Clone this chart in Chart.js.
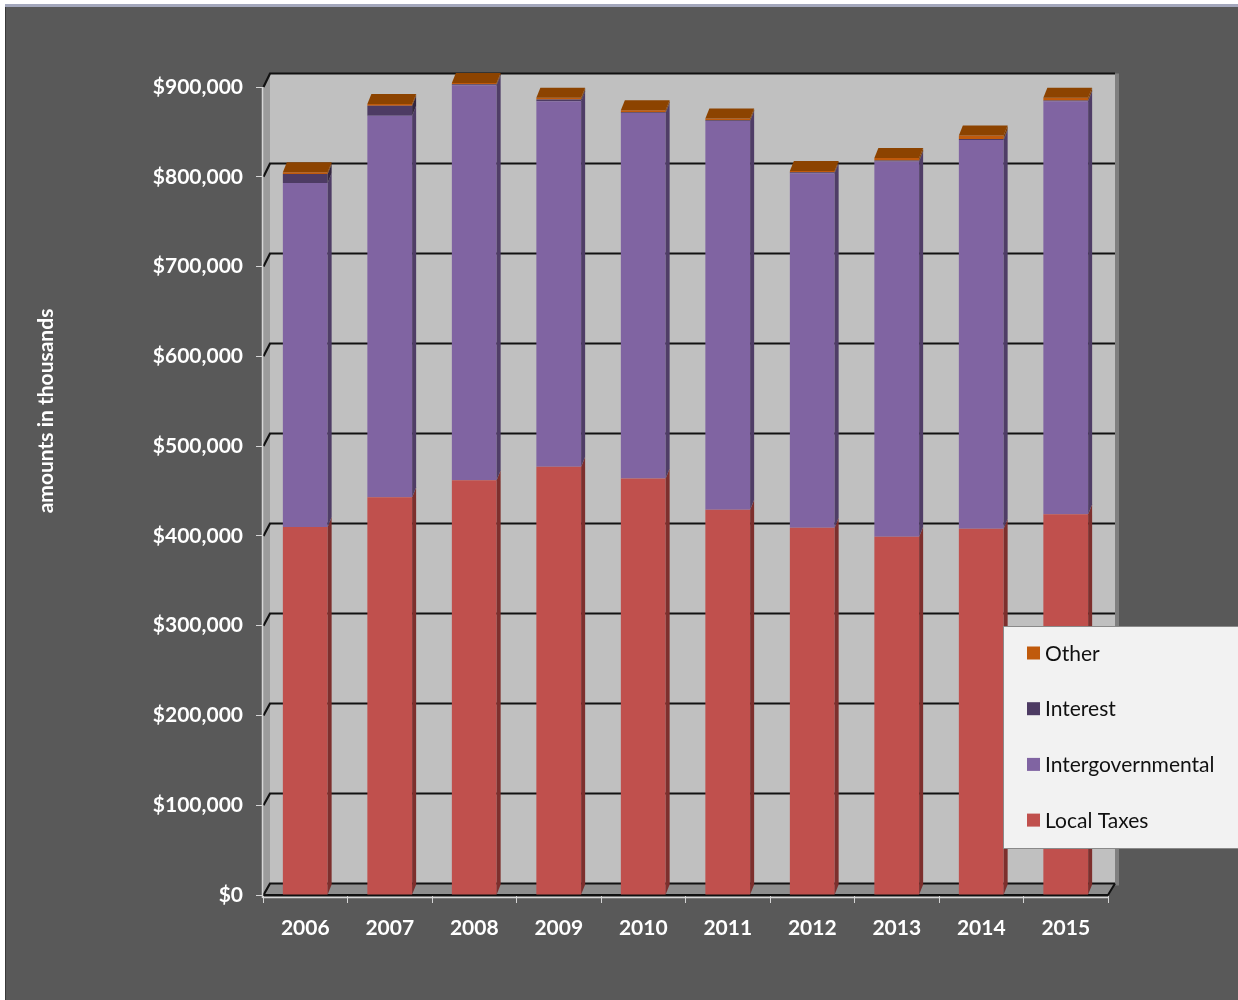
<!DOCTYPE html>
<html>
<head>
<meta charset="utf-8">
<title>Revenues by Source, 2006–2015</title>
<script src="https://cdn.jsdelivr.net/npm/chart.js@4.4.1/dist/chart.umd.min.js"></script>
<style>
  html, body { margin: 0; padding: 0; background: #595959; }
  #wrap { width: 1238px; height: 1000px; }
</style>
</head>
<body>
<div id="wrap"><canvas id="chart" width="1238" height="1000"></canvas></div>
<script>
// Revenues by source, amounts in thousands of dollars
const years = ['2006', '2007', '2008', '2009', '2010', '2011', '2012', '2013', '2014', '2015'];
const localTaxes        = [410000, 443000, 462000, 477000, 464000, 429000, 409000, 399000, 408000, 424000];
const intergovernmental = [383000, 425000, 440000, 407000, 407000, 433000, 395000, 418000, 433000, 460000];
const interest          = [10000, 11000, 1000, 2000, 1000, 1000, 1000, 1000, 1000, 1000];
const other             = [2000, 2000, 1500, 2000, 2000, 2000, 1500, 3000, 4000, 3000];
const axisMax = 900000;
const axisStep = 100000;
const axisTitle = 'amounts in thousands';

// face colours for each series: front, side, top
const palette = {
  local:  { front: '#c0504d', side: '#7d2f2d', top: '#a33f3c' },
  inter:  { front: '#8064a2', side: '#4f3d66', top: '#6a5289' },
  intr:   { front: '#4d3b63', side: '#33263f', top: '#3f3052' },
  other:  { front: '#c05a0c', side: '#7a3800', top: '#8c4300' }
};

const FONT = 'Lato, "Open Sans", "DejaVu Sans", sans-serif';
const BAR_DEPTH = { dx: 4, dy: -10 };   // offset of a bar's back face
const WALL_DEPTH = { dx: 7, dy: -11.5 }; // offset of the back wall

function wallY(frontY, baseY) {
  return frontY + WALL_DEPTH.dy - (baseY - frontY) * 0.0025;
}

// Page background with the frame strips
const backdrop = {
  id: 'backdrop',
  beforeDraw(chart) {
    const { ctx, width, height } = chart;
    ctx.save();
    ctx.fillStyle = '#595959';
    ctx.fillRect(0, 0, width, height);
    ctx.fillStyle = '#ffffff';
    ctx.fillRect(0, 0, width, 4);
    ctx.fillRect(0, 0, 5, height);
    ctx.fillStyle = '#a3a7bc';
    ctx.fillRect(5, 4, width - 5, 3);
    ctx.fillStyle = '#3a3a3a';
    ctx.fillRect(5, 7, 1, height - 7);
    // vertical axis title
    ctx.translate(46, 411);
    ctx.rotate(-Math.PI / 2);
    ctx.fillStyle = '#ffffff';
    ctx.font = 'bold 21px ' + FONT;
    ctx.textAlign = 'center';
    ctx.textBaseline = 'middle';
    ctx.fillText(axisTitle, 0, 0);
    ctx.restore();
  }
};

// Back wall, side wall, floor and gridlines of the 3-D box
const box3d = {
  id: 'box3d',
  beforeDatasetsDraw(chart) {
    const { ctx, chartArea } = chart;
    const ys = chart.scales.y;
    const L = chartArea.left, R = chartArea.right, B = ys.getPixelForValue(0);
    const T = ys.getPixelForValue(axisMax);
    const bL = L + WALL_DEPTH.dx, bR = R + WALL_DEPTH.dx;
    const bT = wallY(T, B), bB = wallY(B, B);
    ctx.save();
    // back wall
    ctx.fillStyle = '#c0c0c0';
    ctx.fillRect(bL, bT, bR - bL, bB - bT);
    ctx.fillStyle = '#7f7f7f';
    ctx.fillRect(bR, bT, 4, bB - bT + 2);
    // left side wall
    ctx.fillStyle = '#9c9c9c';
    ctx.beginPath();
    ctx.moveTo(L, B); ctx.lineTo(L, T); ctx.lineTo(bL, bT); ctx.lineTo(bL, bB);
    ctx.closePath(); ctx.fill();
    // floor
    ctx.fillStyle = '#8e8e8e';
    ctx.beginPath();
    ctx.moveTo(L, B); ctx.lineTo(R, B); ctx.lineTo(bR, bB); ctx.lineTo(bL, bB);
    ctx.closePath(); ctx.fill();
    // gridlines
    ctx.strokeStyle = '#111111';
    ctx.lineWidth = 2.2;
    for (let v = 0; v <= axisMax; v += axisStep) {
      const fy = ys.getPixelForValue(v);
      const by = wallY(fy, B);
      ctx.beginPath();
      ctx.moveTo(L + 0.5, fy);
      ctx.lineTo(bL, by);
      ctx.lineTo(bR, by);
      ctx.stroke();
    }
    // floor edges
    ctx.lineWidth = 2;
    ctx.beginPath();
    ctx.moveTo(L, B); ctx.lineTo(R, B); ctx.lineTo(bR, bB);
    ctx.stroke();
    // axis lines
    ctx.strokeStyle = '#d6d6d6';
    ctx.lineWidth = 1.5;
    ctx.beginPath();
    ctx.moveTo(L - 0.5, T); ctx.lineTo(L - 0.5, B + 3);
    ctx.moveTo(L - 0.5, B + 2.5); ctx.lineTo(R, B + 2.5);
    ctx.stroke();
    ctx.restore();
  },
  afterDatasetsDraw(chart) {
    const { ctx } = chart;
    const n = chart.data.datasets.length;
    ctx.save();
    for (let d = 0; d < n; d++) {
      const ds = chart.data.datasets[d];
      const meta = chart.getDatasetMeta(d);
      meta.data.forEach((el) => {
        const p = el.getProps(['x', 'y', 'base', 'width'], true);
        const l = p.x - p.width / 2, r = p.x + p.width / 2;
        const top = Math.min(p.y, p.base), bot = Math.max(p.y, p.base);
        if (bot - top < 0.01) return;
        ctx.fillStyle = ds.sideColor;
        ctx.beginPath();
        ctx.moveTo(r, top);
        ctx.lineTo(r + BAR_DEPTH.dx, top + BAR_DEPTH.dy);
        ctx.lineTo(r + BAR_DEPTH.dx, bot + BAR_DEPTH.dy);
        ctx.lineTo(r, bot);
        ctx.closePath(); ctx.fill();
        if (d === n - 1) {
          ctx.fillStyle = ds.topColor;
          ctx.beginPath();
          ctx.moveTo(l, top);
          ctx.lineTo(l + BAR_DEPTH.dx, top + BAR_DEPTH.dy);
          ctx.lineTo(r + BAR_DEPTH.dx, top + BAR_DEPTH.dy);
          ctx.lineTo(r, top);
          ctx.closePath(); ctx.fill();
        }
      });
    }
    ctx.restore();
  }
};

// Legend panel, series listed top to bottom in reverse stacking order
const legendBox = {
  id: 'legendBox',
  afterDraw(chart) {
    const { ctx } = chart;
    const x = 1003.5, y = 626.5, w = 236, h = 222;
    ctx.save();
    ctx.fillStyle = '#f2f2f2';
    ctx.fillRect(x, y, w, h);
    ctx.strokeStyle = '#8a8a8a';
    ctx.lineWidth = 1;
    ctx.strokeRect(x, y, w, h);
    const items = chart.data.datasets.slice().reverse();
    ctx.font = '21px ' + FONT;
    ctx.textBaseline = 'middle';
    ctx.textAlign = 'left';
    items.forEach((ds, i) => {
      const cy = 653 + i * 55.7;
      ctx.fillStyle = ds.backgroundColor;
      ctx.fillRect(1027, cy - 6.5, 13, 13);
      ctx.fillStyle = '#111111';
      ctx.fillText(ds.label, 1045, cy + 1);
    });
    ctx.restore();
  }
};

const tickFont = { family: FONT, size: 21, weight: 'bold' };

new Chart(document.getElementById('chart'), {
  type: 'bar',
  data: {
    labels: years,
    datasets: [
      { label: 'Local Taxes', data: localTaxes, backgroundColor: palette.local.front, sideColor: palette.local.side, topColor: palette.local.top },
      { label: 'Intergovernmental', data: intergovernmental, backgroundColor: palette.inter.front, sideColor: palette.inter.side, topColor: palette.inter.top },
      { label: 'Interest', data: interest, backgroundColor: palette.intr.front, sideColor: palette.intr.side, topColor: palette.intr.top },
      { label: 'Other', data: other, backgroundColor: palette.other.front, sideColor: palette.other.side, topColor: palette.other.top }
    ]
  },
  options: {
    responsive: false,
    animation: false,
    devicePixelRatio: 1,
    layout: { padding: { top: 87, right: 130, left: 0, bottom: 0 } },
    datasets: { bar: { categoryPercentage: 0.53, barPercentage: 1, borderWidth: 0, clip: false } },
    plugins: { legend: { display: false }, tooltip: { enabled: false } },
    scales: {
      x: {
        stacked: true,
        offset: true,
        grid: { display: true, drawOnChartArea: false, drawTicks: true, tickLength: 8, color: '#d6d6d6', offset: true },
        border: { display: false },
        ticks: { color: '#ffffff', font: tickFont, padding: 13, maxRotation: 0 },
        afterFit(s) { s.height = 105; }
      },
      y: {
        stacked: true,
        min: 0,
        max: axisMax,
        grid: { display: true, drawOnChartArea: false, drawTicks: true, tickLength: 7, color: '#d6d6d6' },
        border: { display: false },
        ticks: {
          stepSize: axisStep,
          color: '#ffffff',
          font: tickFont,
          padding: 13,
          callback: (v) => '$' + Number(v).toLocaleString('en-US')
        },
        title: { display: false },
        afterFit(s) { s.width = 263; }
      }
    }
  },
  plugins: [backdrop, box3d, legendBox]
});
</script>
</body>
</html>
